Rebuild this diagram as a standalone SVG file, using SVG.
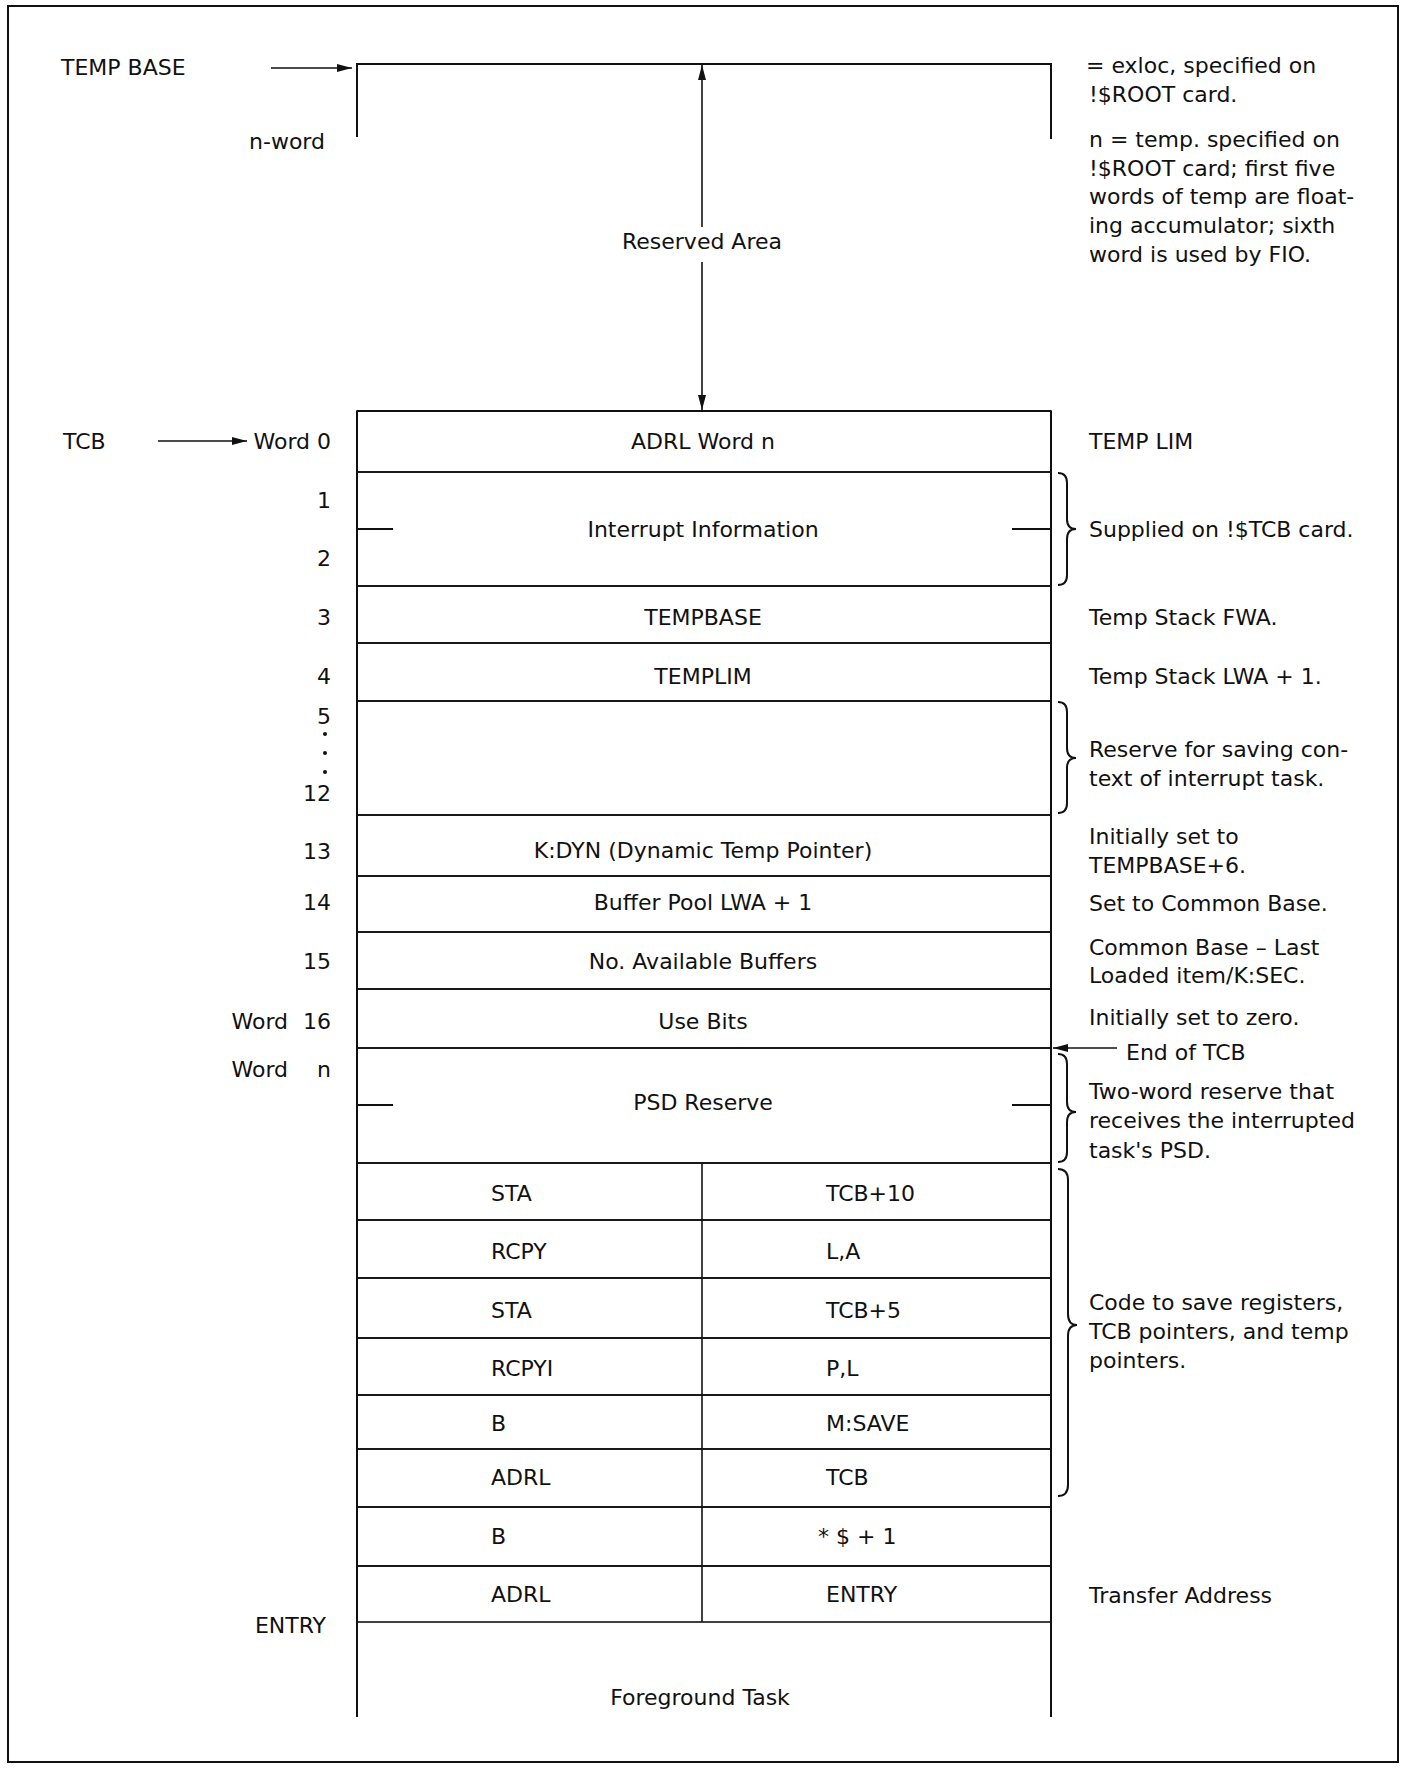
<svg xmlns="http://www.w3.org/2000/svg" width="1408" height="1769" viewBox="0 0 1408 1769">
<style>
.ln{stroke:#111;stroke-width:2;fill:none}
.lt{stroke:#111;stroke-width:1.6;fill:none}
.t{font-family:"DejaVu Sans","Liberation Sans",sans-serif;font-size:22px;fill:#111}
.c{text-anchor:middle}
.r{text-anchor:end}
.dot{fill:#111}
</style>
<defs>
<marker id="ah" markerUnits="userSpaceOnUse" markerWidth="16" markerHeight="10" refX="15" refY="4" orient="auto">
<path d="M0,0 L15,4 L0,8 z" fill="#111"/>
</marker>
</defs>
<rect x="0" y="0" width="1408" height="1769" fill="#fff"/>
<g id="outer-frame"><rect class="ln" x="8" y="6" width="1390" height="1756"/></g>

<g id="temp-area">
<text class="t" x="61" y="75">TEMP BASE</text>
<path class="ln" d="M357,137 L357,64 L1051,64 L1051,139"/>
<text class="t r" x="325" y="149">n-word</text>
<text class="t c" x="702" y="249">Reserved Area</text>
</g>

<g id="notes-top">
<text class="t" x="1086" y="73">= exloc, specified on</text>
<text class="t" x="1089" y="102">!$ROOT card.</text>
<text class="t" x="1089" y="147">n = temp. specified on</text>
<text class="t" x="1089" y="176">!$ROOT card; first five</text>
<text class="t" x="1089" y="204">words of temp are float-</text>
<text class="t" x="1089" y="233">ing accumulator; sixth</text>
<text class="t" x="1089" y="262">word is used by FIO.</text>
</g>

<g id="tcb-frame">
<line class="ln" x1="357" y1="411" x2="357" y2="1717"/>
<line class="ln" x1="1051" y1="411" x2="1051" y2="1717"/>
<line class="ln" x1="357" y1="411" x2="1051" y2="411"/>
</g>

<g id="row-0">
<rect class="lt" x="357" y="411" width="694" height="61"/>
<text class="t" x="63" y="449">TCB</text>
<text class="t r" x="331" y="449">Word 0</text>
<text class="t c" x="703" y="449">ADRL Word n</text>
<text class="t" x="1089" y="449">TEMP LIM</text>
</g>

<g id="row-1-2">
<rect class="lt" x="357" y="472" width="694" height="114"/>
<line class="ln" x1="357" y1="529" x2="393" y2="529"/>
<line class="ln" x1="1012" y1="529" x2="1051" y2="529"/>
<text class="t r" x="331" y="508">1</text>
<text class="t r" x="331" y="566">2</text>
<text class="t c" x="703" y="537">Interrupt Information</text>
<path class="ln" d="M1058,473 Q1067,473 1067,483 L1067,519 Q1067,529 1076,529 Q1067,529 1067,539 L1067,575 Q1067,585 1058,585"/>
<text class="t" x="1089" y="537">Supplied on !$TCB card.</text>
</g>

<g id="row-3">
<rect class="lt" x="357" y="586" width="694" height="57"/>
<text class="t r" x="331" y="625">3</text>
<text class="t c" x="703" y="625">TEMPBASE</text>
<text class="t" x="1089" y="625">Temp Stack FWA.</text>
</g>

<g id="row-4">
<rect class="lt" x="357" y="643" width="694" height="58"/>
<text class="t r" x="331" y="684">4</text>
<text class="t c" x="703" y="684">TEMPLIM</text>
<text class="t" x="1089" y="684">Temp Stack LWA + 1.</text>
</g>

<g id="row-5-12">
<rect class="lt" x="357" y="701" width="694" height="114"/>
<text class="t r" x="331" y="724">5</text>
<circle class="dot" cx="325" cy="734" r="2"/>
<circle class="dot" cx="325" cy="753" r="2"/>
<circle class="dot" cx="325" cy="772" r="2"/>
<text class="t r" x="331" y="801">12</text>
<path class="ln" d="M1058,702 Q1067,702 1067,712 L1067,748 Q1067,758 1076,758 Q1067,758 1067,768 L1067,803 Q1067,813 1058,813"/>
<text class="t" x="1089" y="757">Reserve for saving con-</text>
<text class="t" x="1089" y="786">text of interrupt task.</text>
</g>

<g id="row-13">
<rect class="lt" x="357" y="815" width="694" height="61"/>
<text class="t r" x="331" y="859">13</text>
<text class="t c" x="703" y="858">K:DYN (Dynamic Temp Pointer)</text>
<text class="t" x="1089" y="844">Initially set to</text>
<text class="t" x="1089" y="873">TEMPBASE+6.</text>
</g>

<g id="row-14">
<rect class="lt" x="357" y="876" width="694" height="56"/>
<text class="t r" x="331" y="910">14</text>
<text class="t c" x="703" y="910">Buffer Pool LWA + 1</text>
<text class="t" x="1089" y="911">Set to Common Base.</text>
</g>

<g id="row-15">
<rect class="lt" x="357" y="932" width="694" height="57"/>
<text class="t r" x="331" y="969">15</text>
<text class="t c" x="703" y="969">No. Available Buffers</text>
<text class="t" x="1089" y="955">Common Base – Last</text>
<text class="t" x="1089" y="983">Loaded item/K:SEC.</text>
</g>

<g id="row-16">
<rect class="lt" x="357" y="989" width="694" height="59"/>
<text class="t r" x="288" y="1029">Word</text>
<text class="t r" x="331" y="1029">16</text>
<text class="t c" x="703" y="1029">Use Bits</text>
<text class="t" x="1089" y="1025">Initially set to zero.</text>
</g>

<g id="psd-reserve">
<rect class="lt" x="357" y="1048" width="694" height="115"/>
<line class="ln" x1="357" y1="1105" x2="393" y2="1105"/>
<line class="ln" x1="1012" y1="1105" x2="1051" y2="1105"/>
<text class="t r" x="288" y="1077">Word</text>
<text class="t r" x="331" y="1077">n</text>
<text class="t c" x="703" y="1110">PSD Reserve</text>
<path class="ln" d="M1058,1054 Q1067,1054 1067,1064 L1067,1102 Q1067,1112 1076,1112 Q1067,1112 1067,1122 L1067,1152 Q1067,1162 1058,1162"/>
<text class="t" x="1126" y="1060">End of TCB</text>
<text class="t" x="1089" y="1099">Two-word reserve that</text>
<text class="t" x="1089" y="1128">receives the interrupted</text>
<text class="t" x="1089" y="1158">task's PSD.</text>
</g>

<g id="code-rows">
<rect class="lt" x="357" y="1163" width="694" height="57"/>
<rect class="lt" x="357" y="1220" width="694" height="58"/>
<rect class="lt" x="357" y="1278" width="694" height="60"/>
<rect class="lt" x="357" y="1338" width="694" height="57"/>
<rect class="lt" x="357" y="1395" width="694" height="54"/>
<rect class="lt" x="357" y="1449" width="694" height="58"/>
<line class="lt" x1="702" y1="1163" x2="702" y2="1507"/>
<text class="t" x="491" y="1201">STA</text>
<text class="t" x="826" y="1201">TCB+10</text>
<text class="t" x="491" y="1259">RCPY</text>
<text class="t" x="826" y="1259">L,A</text>
<text class="t" x="491" y="1318">STA</text>
<text class="t" x="826" y="1318">TCB+5</text>
<text class="t" x="491" y="1376">RCPYI</text>
<text class="t" x="826" y="1376">P,L</text>
<text class="t" x="491" y="1431">B</text>
<text class="t" x="826" y="1431">M:SAVE</text>
<text class="t" x="491" y="1485">ADRL</text>
<text class="t" x="826" y="1485">TCB</text>
<path class="ln" d="M1058,1169 Q1068,1169 1068,1180 L1068,1314 Q1068,1325 1077,1325 Q1068,1325 1068,1336 L1068,1485 Q1068,1496 1058,1496"/>
<text class="t" x="1089" y="1310">Code to save registers,</text>
<text class="t" x="1089" y="1339">TCB pointers, and temp</text>
<text class="t" x="1089" y="1368">pointers.</text>
</g>

<g id="branch-row">
<rect class="lt" x="357" y="1507" width="694" height="59"/>
<line class="lt" x1="702" y1="1507" x2="702" y2="1566"/>
<text class="t" x="491" y="1544">B</text>
<text class="t" x="818" y="1544">* $ + 1</text>
</g>

<g id="entry-row">
<rect class="lt" x="357" y="1566" width="694" height="56"/>
<line class="lt" x1="702" y1="1566" x2="702" y2="1622"/>
<text class="t" x="491" y="1602">ADRL</text>
<text class="t" x="826" y="1602">ENTRY</text>
<text class="t" x="1089" y="1603">Transfer Address</text>
</g>

<g id="foreground-task">
<text class="t r" x="326" y="1633">ENTRY</text>
<text class="t c" x="700" y="1705">Foreground Task</text>
</g>

<g id="connectors">
<line class="lt" x1="271" y1="68" x2="352" y2="68" marker-end="url(#ah)"/>
<line class="lt" x1="158" y1="441" x2="247" y2="441" marker-end="url(#ah)"/>
<line class="lt" x1="702" y1="227" x2="702" y2="65" marker-end="url(#ah)"/>
<line class="lt" x1="702" y1="262" x2="702" y2="410" marker-end="url(#ah)"/>
<line class="lt" x1="1117" y1="1048" x2="1053" y2="1048" marker-end="url(#ah)"/>
</g>
</svg>
